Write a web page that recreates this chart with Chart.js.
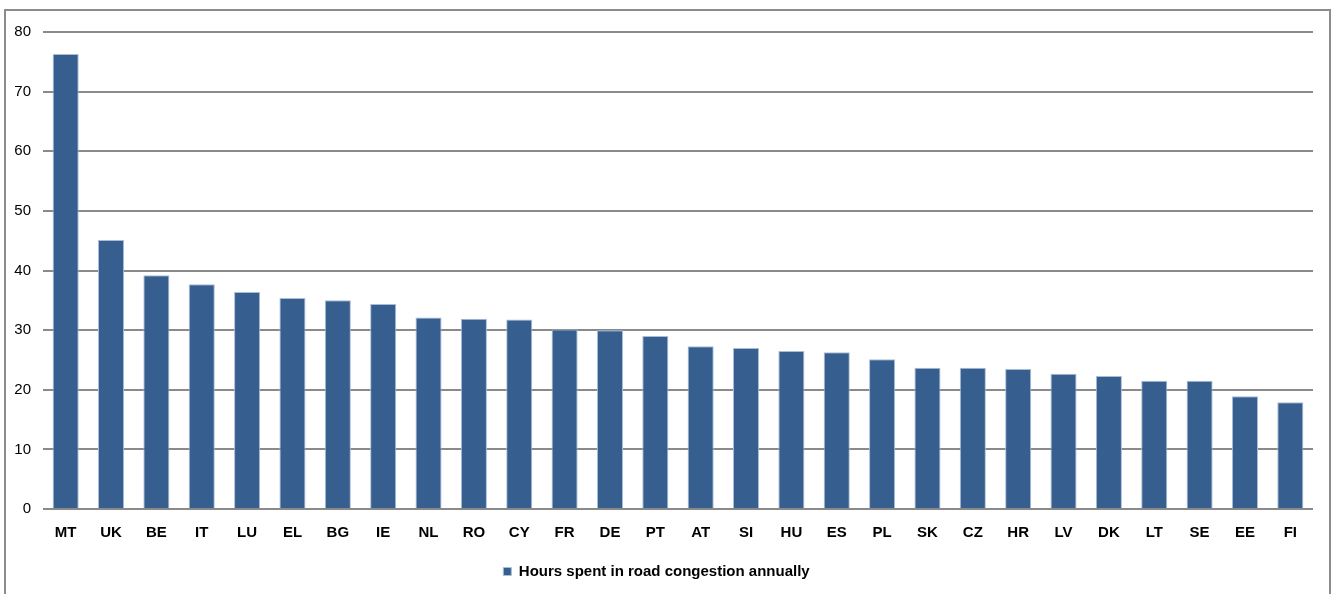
<!DOCTYPE html>
<html>
<head>
<meta charset="utf-8">
<script src="https://cdn.jsdelivr.net/npm/chart.js@4/dist/chart.umd.min.js"></script>
<style>
  html, body { margin: 0; padding: 0; background: #fff; overflow: hidden; }
  #wrap { position: relative; width: 1336px; height: 594px; }
  #frame {
    position: absolute; left: 4px; top: 9px; width: 1327px; height: 600px;
    border: 2px solid #8c8c8c; border-bottom: none; box-sizing: border-box;
  }
  canvas { position: absolute; left: 0; top: 0; }
</style>
</head>
<body>
<div id="wrap">
  <div id="frame"></div>
  <canvas id="chart" width="1336" height="594"></canvas>
</div>
<script>
// Member states, ordered by annual hours lost in road congestion
const countries = ['MT','UK','BE','IT','LU','EL','BG','IE','NL','RO','CY','FR','DE','PT',
                   'AT','SI','HU','ES','PL','SK','CZ','HR','LV','DK','LT','SE','EE','FI'];
const hours = [76.3, 45.1, 39.2, 37.7, 36.4, 35.4, 35.0, 34.4, 32.1, 31.9, 31.8, 30.1, 30.0, 29.0,
               27.3, 27.0, 26.5, 26.3, 25.1, 23.7, 23.7, 23.5, 22.7, 22.3, 21.5, 21.5, 18.9, 17.9];
const seriesName = 'Hours spent in road congestion annually';
const yTicks = [0, 10, 20, 30, 40, 50, 60, 70, 80];

const font = 'Arial, "Liberation Sans", sans-serif';

new Chart(document.getElementById('chart'), {
  type: 'bar',
  data: {
    labels: countries,
    datasets: [{
      label: seriesName,
      data: hours,
      backgroundColor: '#365f8f',
      borderColor: '#a9bdd6',
      borderWidth: 1,
      categoryPercentage: 1.0,
      barPercentage: 0.575
    }]
  },
  options: {
    responsive: false,
    animation: false,
    layout: { padding: { left: 0, right: 23, top: 32, bottom: 5 } },
    plugins: {
      tooltip: { enabled: false },
      legend: {
        position: 'bottom',
        labels: {
          boxWidth: 8,
          boxHeight: 8,
          padding: 7,
          color: '#000',
          font: { family: font, size: 15, weight: 'bold' }
        }
      }
    },
    scales: {
      x: {
        grid: { display: false, drawTicks: false },
        border: { display: false },
        ticks: {
          color: '#000',
          padding: 15,
          maxRotation: 0,
          autoSkip: false,
          font: { family: font, size: 15, weight: 'bold' }
        }
      },
      y: {
        min: 0,
        max: 80,
        afterFit: s => { s.width = 43; },
        afterBuildTicks: s => { s.ticks = yTicks.map(v => ({ value: v })); },
        grid: { color: '#8a8a8a', lineWidth: 2, drawTicks: false },
        border: { display: false },
        ticks: {
          color: '#000',
          padding: 12,
          font: { family: font, size: 15 }
        }
      }
    }
  }
});
</script>
</body>
</html>
